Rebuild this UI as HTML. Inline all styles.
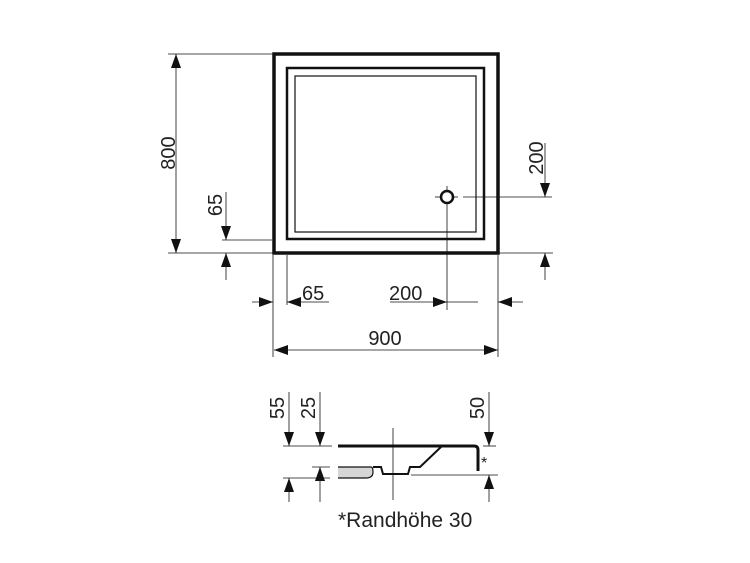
<!DOCTYPE html>
<html><head><meta charset="utf-8"><style>
body{margin:0;background:#fff}
svg{display:block}
text{font-family:"Liberation Sans",sans-serif;font-size:20px;fill:#222}
</style></head><body>
<svg width="750" height="563" viewBox="0 0 750 563" xmlns="http://www.w3.org/2000/svg">
<defs>
<marker id="a" viewBox="0 0 14 10" refX="14" refY="5" markerWidth="14" markerHeight="10" orient="auto-start-reverse" markerUnits="userSpaceOnUse"><path d="M0,0 L14,5 L0,10 Z" fill="#111"/></marker>
</defs>
<g fill="none" stroke="#111">
<rect x="274" y="54" width="224" height="199" stroke-width="3.5"/>
<rect x="287" y="68" width="197" height="171" stroke-width="2.5"/>
<rect x="295" y="76" width="181" height="156" stroke-width="1.2"/>
<circle cx="447" cy="197" r="6" stroke-width="2.5"/>
<g stroke-width="0.8">
<line x1="435" y1="197" x2="442" y2="197"/><line x1="452" y1="197" x2="458" y2="197"/>
<line x1="447" y1="186" x2="447" y2="191"/>
<line x1="447" y1="203" x2="447" y2="310"/>
<line x1="463" y1="197" x2="552" y2="197"/>
<line x1="168" y1="54" x2="273" y2="54"/>
<line x1="168" y1="253" x2="273" y2="253"/>
<line x1="498" y1="253" x2="553" y2="253"/>
<line x1="222" y1="240" x2="272" y2="240"/>
<line x1="273" y1="255" x2="273" y2="357"/>
<line x1="287" y1="255" x2="287" y2="305"/>
<line x1="498" y1="255" x2="498" y2="357"/>
<line x1="176" y1="54" x2="176" y2="253" marker-start="url(#a)" marker-end="url(#a)"/>
<line x1="226" y1="192" x2="226" y2="240" marker-end="url(#a)"/>
<line x1="226" y1="280" x2="226" y2="253" marker-end="url(#a)"/>
<line x1="545" y1="143" x2="545" y2="197" marker-end="url(#a)"/>
<line x1="545" y1="280" x2="545" y2="253" marker-end="url(#a)"/>
<line x1="252" y1="302" x2="273" y2="302" marker-end="url(#a)"/>
<line x1="329" y1="302" x2="287" y2="302" marker-end="url(#a)"/>
<line x1="390" y1="302" x2="447" y2="302" marker-end="url(#a)"/>
<line x1="447" y1="302" x2="478" y2="302"/>
<line x1="523" y1="302" x2="498" y2="302" marker-end="url(#a)"/>
<line x1="274" y1="350" x2="498" y2="350" marker-start="url(#a)" marker-end="url(#a)"/>
</g>
<path d="M338,446 L474,446 Q478,446 478,450 L478,471" stroke-width="3"/>
<path d="M338,467 L371,467 Q373,467 373,472 Q373,478 366,478 L338,478 Z" fill="#d6d6d6" stroke="none"/>
<path d="M338,467 L371,467 Q373,467 373,472 Q373,478 366,478 L338,478" stroke-width="1.2"/>
<path d="M442,446 L420,467 L410,467 L408,474 L383,474 L381,467 L373,467" stroke-width="2"/>
<g stroke-width="0.8">
<line x1="393" y1="428" x2="393" y2="500"/>
<line x1="283" y1="446" x2="332" y2="446"/>
<line x1="312" y1="467" x2="330" y2="467"/>
<line x1="283" y1="478" x2="330" y2="478"/>
<line x1="483" y1="446" x2="496" y2="446"/>
<line x1="411" y1="475" x2="498" y2="475"/>
<line x1="289" y1="392" x2="289" y2="446" marker-end="url(#a)"/>
<line x1="289" y1="502" x2="289" y2="478" marker-end="url(#a)"/>
<line x1="320" y1="392" x2="320" y2="446" marker-end="url(#a)"/>
<line x1="320" y1="502" x2="320" y2="467" marker-end="url(#a)"/>
<line x1="489" y1="392" x2="489" y2="446" marker-end="url(#a)"/>
<line x1="489" y1="502" x2="489" y2="475" marker-end="url(#a)"/>
</g>
</g>
<text transform="translate(175,153) rotate(-90)" text-anchor="middle">800</text>
<text transform="translate(222,205) rotate(-90)" text-anchor="middle">65</text>
<text transform="translate(543,158) rotate(-90)" text-anchor="middle">200</text>
<text x="302" y="300">65</text>
<text x="389" y="300">200</text>
<text x="385" y="345" text-anchor="middle">900</text>
<text transform="translate(284,408) rotate(-90)" text-anchor="middle">55</text>
<text transform="translate(315,408) rotate(-90)" text-anchor="middle">25</text>
<text transform="translate(484,408) rotate(-90)" text-anchor="middle">50</text>
<text x="481" y="468" style="font-size:16px">*</text>
<text x="338" y="527" style="font-size:21px">*Randhöhe 30</text>
</svg>
</body></html>
